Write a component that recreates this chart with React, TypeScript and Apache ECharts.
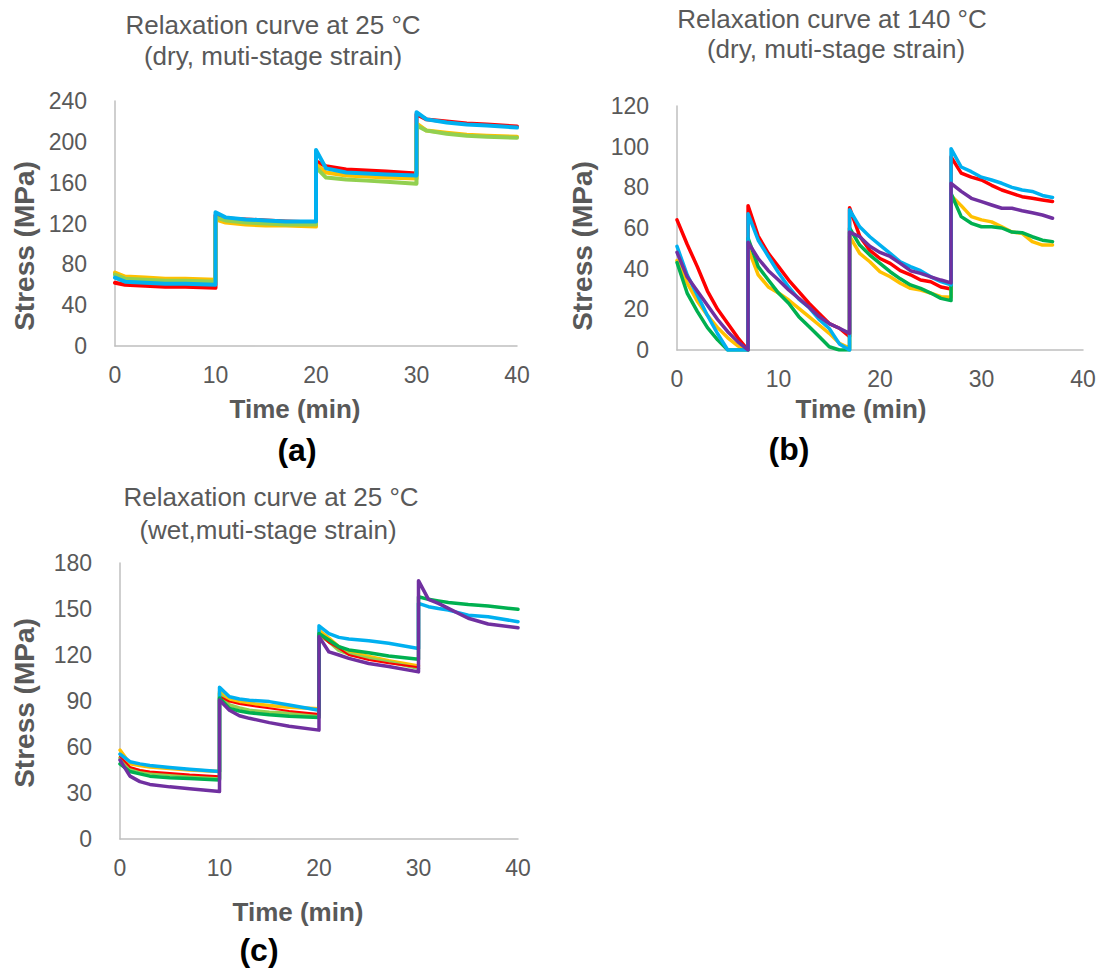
import React, { useEffect, useRef } from "react";
import * as echarts from "echarts";

// ---------- Chart (a): 25 °C dry ----------
const timeA = [0, 1, 3, 5, 7, 10, 10, 11, 13, 15, 17, 20, 20, 21, 23, 25, 27, 30, 30, 31, 33, 35, 37, 40];
const aRed = [62, 60, 59, 58, 58, 57, 128, 125, 124, 123, 122, 121, 181, 176, 173, 172, 171, 169, 227, 222, 220, 218, 217, 215];
const aYellow = [72, 68, 67, 66, 66, 65, 124, 121, 119, 118, 118, 117, 178, 170, 167, 166, 165, 164, 218, 211, 209, 207, 206, 205];
const aLightGreen = [70, 66, 65, 64, 64, 63, 126, 123, 121, 120, 119, 119, 175, 165, 163, 162, 161, 159, 216, 211, 208, 206, 205, 204];
const aBlue = [67, 63, 62, 61, 61, 60, 131, 126, 124, 123, 122, 122, 192, 174, 170, 169, 168, 167, 229, 222, 219, 217, 216, 214];

// ---------- Chart (b): 140 °C dry ----------
const timeB = [
  0, 1, 2, 3, 4, 5, 6, 7,
  7, 8, 9, 10, 11, 12, 13, 14, 15, 16, 17,
  17, 18, 19, 20, 21, 22, 23, 24, 25, 26, 27,
  27, 28, 29, 30, 31, 32, 33, 34, 35, 36, 37,
];
const bRed = [
  64, 52, 41, 29, 20, 13, 6, 0,
  71, 56, 47.5, 41, 34.4, 28.7, 23, 18, 13, 10.7, 6.6,
  70, 56, 49, 45, 42.6, 39, 37, 34.4, 33.6, 31, 30,
  95, 87, 85, 83.6, 81, 78.7, 77, 75.4, 74.6, 73.8, 73,
];
const bYellow = [
  44, 33, 24, 17, 11, 6, 2, 0,
  50, 37, 31, 28, 24.6, 20.5, 16.4, 12.3, 8.2, 3.3, 1,
  56, 47.5, 43.4, 38.5, 36, 32.8, 30.3, 29.5, 28, 26.2, 26,
  76, 71, 65.6, 64, 63, 60.6, 58, 57.4, 53.3, 51.6, 51.6,
];
const bGreen = [
  43, 28, 19, 11, 5, 0, 0, 0,
  55, 41, 34.4, 28, 23, 16.4, 11.5, 6.6, 1.6, 0, 0,
  60, 51.6, 46.7, 42.6, 38.5, 35, 32, 30.3, 28, 25.4, 24.3,
  77, 65.6, 62.3, 60.6, 60.6, 60, 58, 57.7, 55.7, 54, 53.3,
];
const bBlue = [
  51, 37, 27, 17, 8, 0, 0, 0,
  67, 54, 46, 38, 31, 25, 21, 15, 10.6, 3, 0,
  69, 60.6, 55.7, 51.6, 47.5, 43.4, 41, 39, 36, 33.6, 32,
  99, 90, 87.7, 85, 83.6, 82, 80, 78.7, 78, 76, 75,
];
const bPurple = [
  48, 36, 29, 22, 15, 9, 4, 0,
  53, 45, 39, 34.4, 29.5, 25.4, 21, 16.4, 13, 10.7, 8.2,
  58, 55.7, 51, 48, 46, 42.6, 39, 37.7, 36, 34.4, 33,
  82, 78, 74.6, 73, 71.3, 69.7, 69.7, 68.5, 67.5, 66.4, 64.8,
];

// ---------- Chart (c): 25 °C wet ----------
const timeC = [0, 1, 2, 3, 5, 7, 10, 10, 11, 12, 13, 15, 17, 20, 20, 21, 22, 23, 25, 27, 30, 30, 31, 32, 33, 35, 37, 40];
const cRed = [54, 47, 45, 44, 43, 42, 41, 93, 89.6, 88, 87, 85.2, 83.5, 81.5, 134, 128, 124.3, 120, 116.7, 114.6, 112, null, null, null, null, null, null, null];
const cYellow = [58, 49, 48, 47, 46, 45, 44, 96, 90.7, 89.5, 88.5, 87, 86, 85, 136, 131, 125.4, 122, 119, 116.3, 112.8, null, null, null, null, null, null, null];
const cLightGreen = [53, 46, 44.5, 43, 42, 41, 39.5, 95, 87.4, 85.5, 84, 82.6, 82, 81, 133, 128.7, 123, 120.5, 117.8, 115.5, 111.3, null, null, null, null, null, null, null];
const cBlue = [55.4, 50.4, 49, 48, 46.7, 45.5, 44, 99, 92.8, 91.3, 90.5, 89.6, 87.4, 84, 139, 134, 131.5, 130.5, 129.3, 127.6, 124.3, 153.7, 151.5, 150.3, 149.3, 146, 145, 141.7];
const cGreen = [49, 44, 42.5, 41, 40, 39.5, 38.5, 92, 85.2, 83.5, 82.4, 81, 80, 79.3, 134, 129.8, 125.4, 123.3, 121.5, 119.3, 117.2, 158, 156.3, 155.3, 154.3, 153, 152, 149.8];
const cPurple = [51.5, 41, 37.4, 35.6, 34, 32.8, 31, 90.6, 84, 80.4, 78.7, 75.9, 73.5, 71, 132, 122, 120, 117.8, 114.5, 112.5, 109, 168.5, 156.3, 153.7, 150.4, 144, 140.2, 137.8];

const xTicks = [0, 10, 20, 30, 40];

const RED = "#FF0000";
const YELLOW = "#FFC000";
const LIGHTGREEN = "#92D050";
const BLUE = "#00B0F0";
const GREEN = "#00B050";
const PURPLE = "#7030A0";

const FONT = "'Liberation Sans', Arial, sans-serif";
const GRAY = "#595959";

function zip(times: number[], vals: (number | null)[]) {
  const out: [number, number][] = [];
  times.forEach((t, i) => {
    const v = vals[i];
    if (v !== null && v !== undefined) out.push([t, v]);
  });
  return out;
}

function line(idx: number, times: number[], vals: (number | null)[], color: string, width: number) {
  return {
    type: "line",
    xAxisIndex: idx,
    yAxisIndex: idx,
    data: zip(times, vals),
    symbol: "none",
    showSymbol: false,
    lineStyle: { color, width, cap: "round", join: "round" },
    itemStyle: { color },
    z: 2,
  };
}

function xAxis(idx: number) {
  return {
    type: "value",
    gridIndex: idx,
    min: xTicks[0],
    max: xTicks[xTicks.length - 1],
    interval: 10,
    axisLine: { show: true, onZero: false, lineStyle: { color: "#BFBFBF", width: 1.5 } },
    axisTick: { show: false },
    splitLine: { show: false },
    axisLabel: { color: GRAY, fontSize: 23, fontFamily: FONT, margin: 17 },
  };
}

function yAxis(idx: number, max: number, interval: number) {
  return {
    type: "value",
    gridIndex: idx,
    min: 0,
    max,
    interval,
    axisLine: { show: true, lineStyle: { color: "#BFBFBF", width: 1.5 } },
    axisTick: { show: false },
    splitLine: { show: false },
    axisLabel: { color: GRAY, fontSize: 23, fontFamily: FONT, margin: 28 },
  };
}

function txt(x: number, y: number, text: string, size: number, bold: boolean, color: string, rotation = 0) {
  return {
    type: "text",
    x,
    y,
    rotation,
    style: {
      text,
      fill: color,
      font: `${bold ? "bold " : ""}${size}px ${FONT}`,
      textAlign: "center",
      textVerticalAlign: "middle",
    },
  };
}

export default function App() {
  const ref = useRef<HTMLDivElement>(null);
  useEffect(() => {
    if (!ref.current) return;
    const chart = echarts.init(ref.current, null, { renderer: "svg" });
    chart.setOption({
      animation: false,
      backgroundColor: "#ffffff",
      grid: [
        { left: 115, top: 101, width: 402, height: 245 },
        { left: 677, top: 106, width: 406, height: 244 },
        { left: 120, top: 563, width: 398, height: 276 },
      ],
      xAxis: [xAxis(0), xAxis(1), xAxis(2)],
      yAxis: [yAxis(0, 240, 40), yAxis(1, 120, 20), yAxis(2, 180, 30)],
      series: [
        line(0, timeA, aRed, RED, 4),
        line(0, timeA, aYellow, YELLOW, 4),
        line(0, timeA, aLightGreen, LIGHTGREEN, 4),
        line(0, timeA, aBlue, BLUE, 4),

        line(1, timeB, bRed, RED, 3.5),
        line(1, timeB, bYellow, YELLOW, 3.5),
        line(1, timeB, bGreen, GREEN, 3.5),
        line(1, timeB, bBlue, BLUE, 3.5),
        line(1, timeB, bPurple, PURPLE, 3.5),

        line(2, timeC, cYellow, YELLOW, 3.5),
        line(2, timeC, cLightGreen, LIGHTGREEN, 3.5),
        line(2, timeC, cRed, RED, 2),
        line(2, timeC, cBlue, BLUE, 3.5),
        line(2, timeC, cGreen, GREEN, 3.5),
        line(2, timeC, cPurple, PURPLE, 3.5),
      ],
      graphic: [
        txt(273, 25, "Relaxation curve at 25 °C", 26, false, GRAY),
        txt(273, 56, "(dry, muti-stage strain)", 26, false, GRAY),
        txt(832, 19, "Relaxation curve at 140 °C", 26, false, GRAY),
        txt(836, 49, "(dry, muti-stage strain)", 26, false, GRAY),
        txt(271, 497, "Relaxation curve at 25 °C", 26, false, GRAY),
        txt(268, 530, "(wet,muti-stage strain)", 26, false, GRAY),

        txt(24, 246, "Stress (MPa)", 28, true, GRAY, Math.PI / 2),
        txt(582, 246, "Stress (MPa)", 28, true, GRAY, Math.PI / 2),
        txt(24, 703, "Stress (MPa)", 28, true, GRAY, Math.PI / 2),

        txt(295, 409, "Time (min)", 26, true, GRAY),
        txt(861, 409, "Time (min)", 26, true, GRAY),
        txt(298, 912, "Time (min)", 26, true, GRAY),

        txt(297, 450, "(a)", 32, true, "#000000"),
        txt(789, 449, "(b)", 32, true, "#000000"),
        txt(259, 950, "(c)", 32, true, "#000000"),
      ],
    });
    return () => chart.dispose();
  }, []);
  return (
    <div
      ref={ref}
      style={{ position: "fixed", left: 0, top: 0, width: 1100, height: 970, background: "#fff" }}
    />
  );
}
